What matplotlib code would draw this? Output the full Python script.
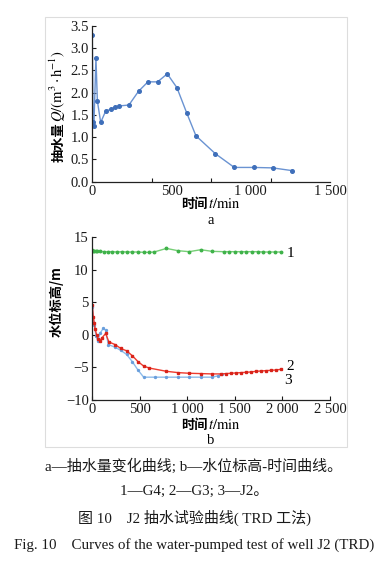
import matplotlib
matplotlib.use('Agg')
import matplotlib.pyplot as plt
from matplotlib.patches import Rectangle

W, H = 388, 565

# 图a: 抽水量变化曲线
t_a = [0, 5, 10, 23, 32, 53, 85, 116, 143, 170, 231, 292, 351, 412, 473, 534,
       595, 654, 776, 896, 1018, 1138, 1258]
q_a = [3.29, 1.35, 1.25, 2.78, 1.81, 1.33, 1.59, 1.62, 1.67, 1.70, 1.72, 2.03,
       2.24, 2.24, 2.42, 2.11, 1.55, 1.03, 0.63, 0.32, 0.32, 0.31, 0.25]

# 图b: 水位标高-时间曲线
t_g4 = [0, 10, 20, 35, 50, 80, 120, 160, 210, 260, 310, 365, 420, 480, 540, 600,
        650, 780, 900, 1020, 1140, 1260, 1380, 1440, 1500, 1560, 1620, 1680,
        1740, 1800, 1860, 1920, 1980]
h_g4 = [13.0, 12.9, 12.85, 12.8, 12.8, 12.8, 12.75, 12.75, 12.75, 12.7, 12.75,
        12.7, 12.7, 12.7, 12.65, 12.65, 12.7, 13.25, 12.9, 12.75, 13.05, 12.8,
        12.75, 12.75, 12.75, 12.75, 12.75, 12.75, 12.75, 12.7, 12.7, 12.7, 12.7]

t_g3 = [0, 10, 20, 30, 45, 60, 80, 100, 140, 175, 240, 300, 360, 420, 480, 540,
        600, 780, 900, 1020, 1140, 1260, 1355, 1405, 1460, 1510, 1565, 1615,
        1670, 1720, 1775, 1825, 1880, 1930, 1980]
h_g3 = [4.6, 2.8, 1.8, 0.9, 0.0, -0.6, -0.9, -0.5, 0.2, -1.1, -1.5, -2.1, -2.45,
        -3.2, -4.1, -4.8, -5.1, -5.6, -5.8, -5.9, -5.95, -6.0, -6.0, -5.95,
        -5.9, -5.85, -5.8, -5.75, -5.7, -5.6, -5.55, -5.5, -5.45, -5.4, -5.3]

t_j2 = [0, 20, 40, 57, 80, 116, 140, 168, 240, 300, 360, 420, 480, 540, 660,
        780, 900, 1020, 1140, 1260, 1320, 1360]
h_j2 = [4.3, 1.5, -0.2, -0.9, 0.2, 1.0, 0.7, -1.5, -1.9, -2.4, -3.0, -4.1, -5.4,
        -6.5, -6.5, -6.5, -6.5, -6.5, -6.5, -6.5, -6.3, -6.0]

curve_names = ['1', '2', '3']

xt_a = [0, 500, 1000, 1500]
xt_a_lab = ['0', '500', '1 000', '1 500']
xt_a_marks = [375, 750, 1125, 1500]
yt_a = [0.0, 0.5, 1.0, 1.5, 2.0, 2.5, 3.0, 3.5]

xt_b = [0, 500, 1000, 1500, 2000, 2500]
xt_b_lab = ['0', '500', '1 000', '1 500', '2 000', '2 500']
yt_b = [-10, -5, 0, 5, 10, 15]

plt.rcParams['font.family'] = ['Liberation Serif', 'Noto Sans CJK SC']
plt.rcParams['mathtext.fontset'] = 'stix'
plt.rcParams['axes.unicode_minus'] = True

fig = plt.figure(figsize=(W / 100, H / 100), dpi=100)


def px_axes(left, top, right, bottom):
    return fig.add_axes([left / W, 1 - bottom / H, (right - left) / W, (bottom - top) / H])


def style_axes(ax):
    for s in ['top', 'right']:
        ax.spines[s].set_visible(False)
    for s in ['left', 'bottom']:
        ax.spines[s].set_linewidth(0.9)
        ax.spines[s].set_color('#222222')
    ax.tick_params(which='both', direction='in', length=3, width=0.8,
                   labelsize=10.5, pad=2.5, colors='#1a1a1a')
    ax.patch.set_alpha(0)


def text_pieces(x, y, pieces, rotation=0):
    # pieces laid out along a common baseline, centred at pixel (x, y)
    r = fig.canvas.get_renderer()
    objs = [fig.text(0, 0, s, rotation=rotation, rotation_mode='anchor',
                     ha='left', va='baseline', **kw) for s, kw in pieces]
    lens = []
    for t in objs:
        bb = t.get_window_extent(r)
        lens.append(bb.height if rotation == 90 else bb.width)
    cum = -sum(lens) / 2
    for t, L in zip(objs, lens):
        if rotation == 90:
            t.set_position((x / W, 1 - (y - cum) / H))
        else:
            t.set_position(((x + cum) / W, 1 - y / H))
        cum += L


cjk_bold = dict(family=['Noto Sans CJK SC'], weight='bold', fontsize=9.5)
serif = dict(fontsize=10.5)

# 外框
fig.add_artist(Rectangle((45 / W, 1 - 447 / H), 302 / W, 430 / H,
                         transform=fig.transFigure, fill=False,
                         ec='#dddddd', lw=0.8))

# ---- a ----
ax1 = px_axes(92.3, 25.7, 330, 181.7)
style_axes(ax1)
ax1.plot(t_a, q_a, color='#6a93d2', lw=1.0, marker='o', ms=2.6,
         mfc='#3f6fba', mec='#3f6fba')
ax1.set_xlim(0, 1500)
ax1.set_ylim(0, 3.5)
ax1.set_xticks(xt_a)
ax1.set_xticklabels(xt_a_lab)
ax1.tick_params(axis='x', which='major', length=0)
ax1.set_xticks(xt_a_marks, minor=True)
ax1.set_yticks(yt_a)
ax1.set_yticklabels([f'{v:.1f}' for v in yt_a])

text_pieces(63, 106, [('抽水量', cjk_bold),
                      (r'$Q/(\mathrm{m}^{3}\cdot\mathrm{h}^{-1})$', serif)],
            rotation=90)
text_pieces(211, 208, [('时间', cjk_bold), (r'$t/\mathrm{min}$', serif)])
fig.text(211 / W, 1 - 221 / H, 'a', ha='center', va='center', fontsize=10.5)

# ---- b ----
ax2 = px_axes(92.3, 237, 330, 400)
style_axes(ax2)
ax2.plot(t_j2, h_j2, color='#8dbbea', lw=1.0, marker='o', ms=1.4,
         mfc='#6a9fdc', mec='#6a9fdc')
ax2.plot(t_g3, h_g3, color='#ee3b2e', lw=1.0, marker='s', ms=2.0,
         mfc='#d8231a', mec='#d8231a')
ax2.plot(t_g4, h_g4, color='#76cf76', lw=1.0, marker='o', ms=1.8,
         mfc='#3fb24a', mec='#3fb24a')
ax2.set_xlim(0, 2500)
ax2.set_ylim(-10, 15)
ax2.set_xticks(xt_b)
ax2.set_xticklabels(xt_b_lab)
ax2.set_yticks(yt_b)

ax2.text(2040, h_g4[-1] - 0.2, curve_names[0], fontsize=11, va='center', ha='left')
ax2.text(2040, h_g3[-1] + 0.4, curve_names[1], fontsize=11, va='center', ha='left')
ax2.text(2020, h_g3[-1] - 1.7, curve_names[2], fontsize=11, va='center', ha='left')

fig.text(57 / W, 1 - 302 / H, '水位标高/m', rotation=90, ha='center', va='center',
         family=['Noto Sans CJK SC'], weight='bold', fontsize=9.5)
text_pieces(211, 429, [('时间', cjk_bold), (r'$t/\mathrm{min}$', serif)])
fig.text(211 / W, 1 - 441 / H, 'b', ha='center', va='center', fontsize=10.5)

# ---- 图注 ----
cap = dict(ha='center', va='center', fontsize=10.8, color='#1a1a1a')
fig.text(194 / W, 1 - 466 / H, 'a—抽水量变化曲线; b—水位标高-时间曲线。', **cap)
fig.text(194 / W, 1 - 491 / H, '1—G4; 2—G3; 3—J2。', **cap)
fig.text(194 / W, 1 - 518 / H, '图 10    J2 抽水试验曲线( TRD 工法)', **cap)
fig.text(194 / W, 1 - 545 / H,
         'Fig. 10    Curves of the water-pumped test of well J2 (TRD)', **cap)

fig.savefig('out.png', dpi=100)
